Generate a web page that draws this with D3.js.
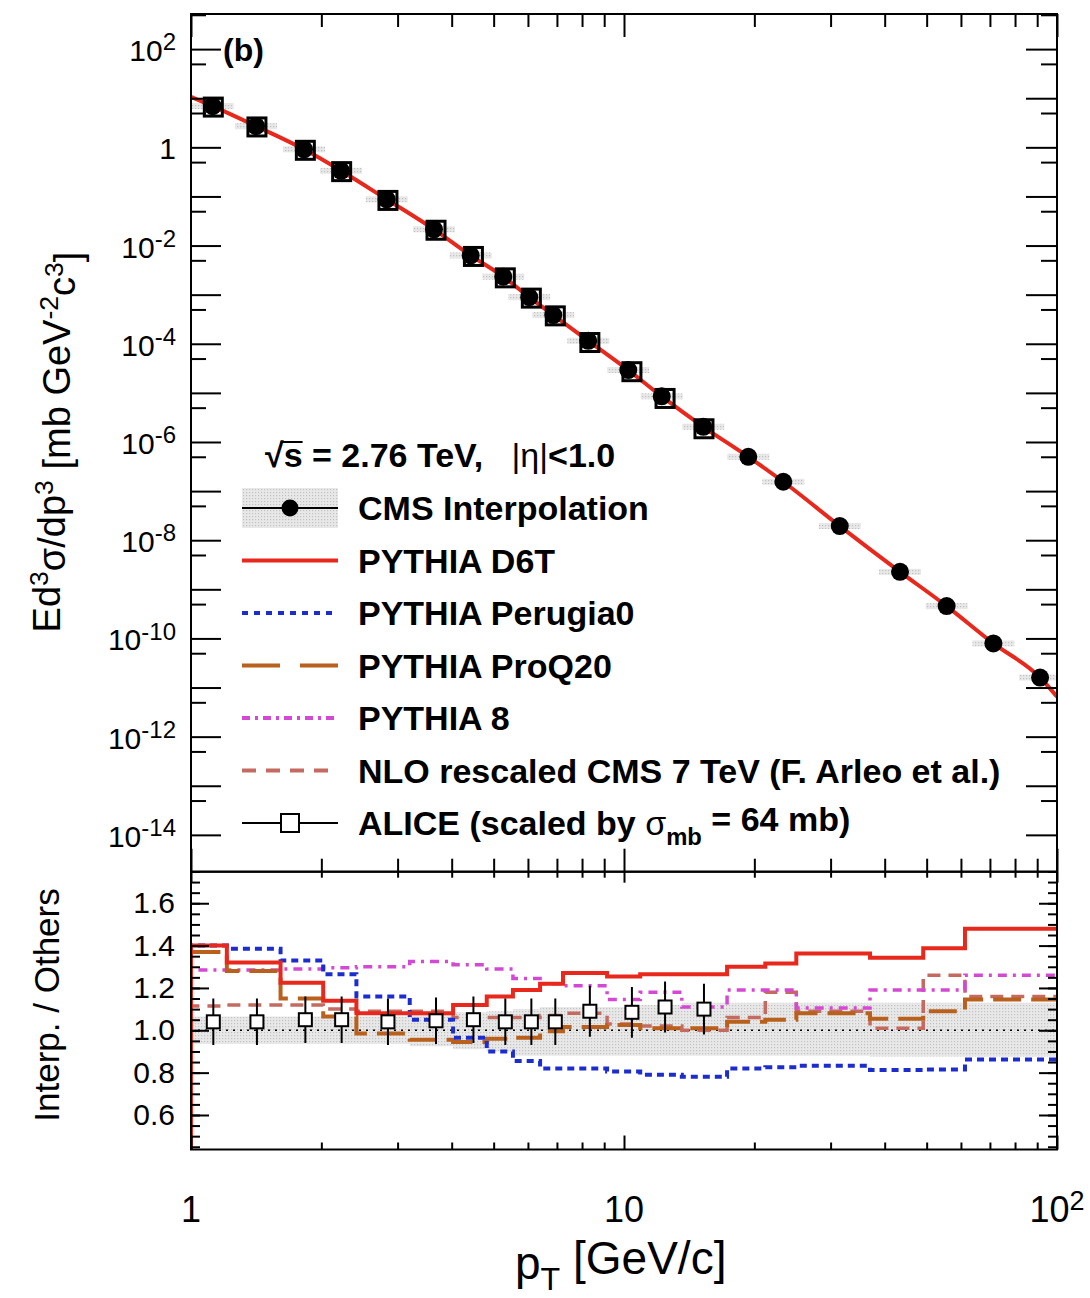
<!DOCTYPE html>
<html>
<head>
<meta charset="utf-8">
<script src="https://cdn.jsdelivr.net/npm/d3@7"></script>
<style>
  body { margin: 0; background: #fff; }
  svg { display: block; }
  text { font-family: "Liberation Sans", Arial, Helvetica, sans-serif; fill: #000; white-space: pre; }
</style>
</head>
<body>
<div id="chart"></div>
<script>
// ---- data ----
// CMS interpolation (filled circles), pT in GeV/c
const cmsPt  = [1.122, 1.413, 1.824, 2.221, 2.831, 3.64, 4.425, 5.263, 6.042, 6.866, 8.27,
                10.23, 12.22, 15.25, 19.37, 23.33, 31.5, 43.4, 55.6, 71.3, 91.4];
const cmsVal = [6.9, 2.7, 0.91, 0.333, 0.0873, 0.0214, 6.3e-3, 2.32e-3, 8.9e-4, 3.84e-4, 1.15e-4,
                2.91e-5, 8.5e-6, 2.04e-6, 5.0e-7, 1.55e-7, 1.94e-8, 2.27e-9, 4.55e-10, 7.9e-11, 1.6e-11];

// PYTHIA D6T spectrum (top panel curve)
const d6tPt  = [1, 1.122, 1.413, 1.824, 2.221, 2.831, 3.64, 4.425, 5.263, 6.042, 6.866, 8.27,
                10.23, 12.22, 15.25, 19.37, 23.33, 31.5, 43.4, 55.6, 71.3, 91.4, 100];
const d6tVal = [10.7, 6.9, 2.7, 0.91, 0.333, 0.0873, 0.0214, 6.3e-3, 2.32e-3, 8.9e-4, 3.84e-4, 1.15e-4,
                2.91e-5, 8.5e-6, 2.04e-6, 5.0e-7, 1.55e-7, 1.94e-8, 2.27e-9, 4.55e-10, 7.9e-11, 1.6e-11, 6.5e-12];

// ALICE (open squares)
const alicePt  = [1.126, 1.42, 1.837, 2.228, 2.85, 3.68, 4.49, 5.32, 6.11, 6.94, 8.34, 10.43, 12.44, 15.3];
const aliceVal = [6.6, 2.6, 0.87, 0.32, 0.083, 0.0205, 6.0e-3, 2.2e-3, 8.5e-4, 3.7e-4, 1.06e-4, 2.7e-5, 7.7e-6, 1.86e-6];
const aliceRatio    = [1.04, 1.04, 1.05, 1.05, 1.04, 1.045, 1.05, 1.04, 1.04, 1.04, 1.09, 1.085, 1.11, 1.10];
const aliceRatioErr = [0.11, 0.11, 0.11, 0.11, 0.11, 0.11, 0.11, 0.11, 0.11, 0.11, 0.12, 0.12, 0.12, 0.12];

// ratio panel: histogram bin edges and contents
const binEdges = [1.0, 1.21, 1.61, 2.02, 2.41, 3.2, 4.03, 4.82, 5.54, 6.4, 7.23, 9.14,
                  10.9, 13.6, 17.3, 21.2, 25.0, 37.0, 49.1, 61.3, 81.0, 100];
const ratioD6T      = [1.40, 1.32, 1.225, 1.14, 1.08, 1.08, 1.12, 1.16, 1.19, 1.22, 1.27,
                       1.254, 1.265, 1.265, 1.30, 1.316, 1.363, 1.343, 1.387, 1.48, 1.48];
const ratioPerugia0 = [1.40, 1.385, 1.33, 1.265, 1.16, 1.05, 0.965, 0.90, 0.855, 0.82, 0.82,
                       0.805, 0.79, 0.78, 0.82, 0.825, 0.832, 0.812, 0.815, 0.862, 0.862];
const ratioProQ20   = [1.37, 1.28, 1.15, 1.065, 0.985, 0.955, 0.945, 0.96, 0.965, 0.995, 1.015,
                       1.025, 1.01, 1.01, 1.04, 1.05, 1.08, 1.055, 1.09, 1.145, 1.145];
const ratioPythia8  = [1.285, 1.285, 1.29, 1.295, 1.30, 1.325, 1.31, 1.29, 1.245, 1.22, 1.21,
                       1.145, 1.18, 1.11, 1.19, 1.19, 1.105, 1.19, 1.19, 1.26, 1.26];
const ratioNLO      = [1.115, 1.12, 1.12, 1.10, 1.09, 1.09, 1.06, 1.06, 1.06, 1.07, 1.08,
                       1.03, 1.02, 1.00, 1.06, 1.18, 1.09, 1.01, 1.26, 1.16, 1.16];
const bandLow  = [0.935, 0.935, 0.935, 0.935, 0.935, 0.925, 0.91, 0.90, 0.88, 0.88, 0.88,
                  0.88, 0.88, 0.88, 0.88, 0.88, 0.88, 0.876, 0.876, 0.876, 0.876];
const bandHigh = [1.065, 1.065, 1.065, 1.065, 1.065, 1.075, 1.085, 1.09, 1.10, 1.11, 1.11,
                  1.11, 1.12, 1.13, 1.13, 1.13, 1.13, 1.13, 1.13, 1.13, 1.13];

// axis ticks
const xMajor = [1, 10, 100];
const xMinor = [2, 3, 4, 5, 6, 7, 8, 9, 20, 30, 40, 50, 60, 70, 80, 90];
const yTopExp = d3.range(-14, 3);            // every decade gets a long tick
const yTopLabelExp = [2, 0, -2, -4, -6, -8, -10, -12, -14];
const yBotMajor = [0.6, 0.8, 1.0, 1.2, 1.4, 1.6];
const yBotMinor = d3.range(0.45, 1.76, 0.05).map(v => +v.toFixed(2));

const legendLabels = ["CMS Interpolation", "PYTHIA D6T", "PYTHIA Perugia0", "PYTHIA ProQ20",
                      "PYTHIA 8", "NLO rescaled CMS 7 TeV (F. Arleo et al.)", "ALICE"];

// ---- layout ----
const W = 1090, H = 1298;
const X0 = 191, X1 = 1057, TOP0 = 14, MID = 871.7, BOT1 = 1149.5;

const col = {
  d6t: "#e8281c", per: "#1c2ccf", pro: "#b8601c", p8: "#d449d4", nlo: "#c46a60"
};

const x = d3.scaleLog().domain([1, 100]).range([X0, X1]);
const yTop = d3.scaleLog().domain([Math.pow(10, -14.75), Math.pow(10, 2.715)]).range([MID, TOP0]);
const yBot = d3.scaleLinear().domain([0.437, 1.749]).range([BOT1, MID]);

const svg = d3.select("#chart").append("svg").attr("width", W).attr("height", H);
const defs = svg.append("defs");
const pat = defs.append("pattern").attr("id", "hatch").attr("width", 3).attr("height", 3)
  .attr("patternUnits", "userSpaceOnUse");
pat.append("rect").attr("width", 3).attr("height", 3).attr("fill", "#e8e8e8");
pat.append("rect").attr("width", 1.2).attr("height", 1.2).attr("fill", "#c2c2c2");
defs.append("clipPath").attr("id", "clipTop").append("rect")
  .attr("x", X0).attr("y", TOP0).attr("width", X1 - X0).attr("height", MID - TOP0);
defs.append("clipPath").attr("id", "clipBot").append("rect")
  .attr("x", X0).attr("y", MID).attr("width", X1 - X0).attr("height", BOT1 - MID);

function sup(sel, base, exp, scale) {
  sel.text(null);
  sel.append("tspan").text(base);
  if (exp !== null && exp !== undefined)
    sel.append("tspan").attr("dy", "-0.45em").attr("font-size", scale || "80%").text(exp);
}

// ================= TOP PANEL =================
const gTop = svg.append("g").attr("clip-path", "url(#clipTop)");

// CMS uncertainty boxes
gTop.selectAll("rect.sys").data(cmsPt).join("rect")
  .attr("class", "sys")
  .attr("x", d => x(d) - 21).attr("width", 42)
  .attr("y", (d, i) => yTop(cmsVal[i]) - 3).attr("height", 6)
  .attr("fill", "url(#hatch)");

// PYTHIA D6T curve
gTop.append("path")
  .datum(d6tPt.map((p, i) => [p, d6tVal[i]]))
  .attr("fill", "none").attr("stroke", col.d6t).attr("stroke-width", 4)
  .attr("d", d3.line().x(d => x(d[0])).y(d => yTop(d[1])).curve(d3.curveMonotoneX));

// ALICE squares
gTop.selectAll("rect.alice").data(alicePt).join("rect")
  .attr("class", "alice")
  .attr("x", d => x(d) - 9).attr("width", 18)
  .attr("y", (d, i) => yTop(aliceVal[i]) - 9).attr("height", 18)
  .attr("fill", "none").attr("stroke", "#000").attr("stroke-width", 3);

// CMS circles
gTop.selectAll("circle.cms").data(cmsPt).join("circle")
  .attr("class", "cms")
  .attr("cx", d => x(d)).attr("cy", (d, i) => yTop(cmsVal[i])).attr("r", 9)
  .attr("fill", "#000");

// ================= BOTTOM PANEL =================
const gBot = svg.append("g").attr("clip-path", "url(#clipBot)");
const edgeIdx = d3.range(binEdges.length);

gBot.append("path")
  .datum(edgeIdx)
  .attr("fill", "url(#hatch)")
  .attr("d", d3.area()
    .x(i => x(binEdges[i]))
    .y0(i => yBot(bandLow[Math.min(i, bandLow.length - 1)]))
    .y1(i => yBot(bandHigh[Math.min(i, bandHigh.length - 1)]))
    .curve(d3.curveStepAfter));

gBot.append("line")
  .attr("x1", X0).attr("x2", X1).attr("y1", yBot(1)).attr("y2", yBot(1))
  .attr("stroke", "#000").attr("stroke-width", 1.6).attr("stroke-dasharray", "2,5");

function stepPts(vals) {
  const pts = [[binEdges[0], 0.3]];
  vals.forEach((v, i) => pts.push([binEdges[i], v]));
  pts.push([binEdges[binEdges.length - 1], vals[vals.length - 1]]);
  return pts;
}
const stepLine = d3.line().x(d => x(d[0])).y(d => yBot(d[1])).curve(d3.curveStepAfter);

const ratioSeries = [
  { vals: ratioNLO,      color: col.nlo, w: 3.5, dash: "13,8" },
  { vals: ratioPythia8,  color: col.p8,  w: 3.5, dash: "9,6,3,6" },
  { vals: ratioProQ20,   color: col.pro, w: 4,   dash: "28,10" },
  { vals: ratioPerugia0, color: col.per, w: 4,   dash: "7,5" },
  { vals: ratioD6T,      color: col.d6t, w: 4,   dash: null }
];
ratioSeries.forEach(s => {
  gBot.append("path")
    .datum(stepPts(s.vals))
    .attr("fill", "none").attr("stroke", s.color).attr("stroke-width", s.w)
    .attr("stroke-dasharray", s.dash)
    .attr("d", stepLine);
});

// ALICE ratio points
gBot.selectAll("line.err").data(alicePt).join("line")
  .attr("class", "err")
  .attr("x1", d => x(d)).attr("x2", d => x(d))
  .attr("y1", (d, i) => yBot(aliceRatio[i] - aliceRatioErr[i]))
  .attr("y2", (d, i) => yBot(aliceRatio[i] + aliceRatioErr[i]))
  .attr("stroke", "#000").attr("stroke-width", 2);
gBot.selectAll("rect.ar").data(alicePt).join("rect")
  .attr("class", "ar")
  .attr("x", d => x(d) - 6.5).attr("width", 13)
  .attr("y", (d, i) => yBot(aliceRatio[i]) - 6.5).attr("height", 13)
  .attr("fill", "#fff").attr("stroke", "#000").attr("stroke-width", 2);

// ================= AXES =================
function styleAxis(g) {
  g.select(".domain").remove();
  g.selectAll(".tick line").attr("stroke", "#000").attr("stroke-width", 2);
}
function ticksOnly(axis, vals, size) {
  return axis.tickValues(vals).tickSizeInner(size).tickSizeOuter(0).tickFormat("");
}

// top panel x ticks
svg.append("g").attr("transform", `translate(0,${TOP0})`).call(ticksOnly(d3.axisBottom(x), xMajor, 23)).call(styleAxis);
svg.append("g").attr("transform", `translate(0,${TOP0})`).call(ticksOnly(d3.axisBottom(x), xMinor, 13)).call(styleAxis);
svg.append("g").attr("transform", `translate(0,${MID})`).call(ticksOnly(d3.axisTop(x), xMajor, 23)).call(styleAxis);
svg.append("g").attr("transform", `translate(0,${MID})`).call(ticksOnly(d3.axisTop(x), xMinor, 13)).call(styleAxis);

// top panel y ticks
const topMaj = yTopExp.map(e => Math.pow(10, e));
const topMin = yTopExp.map(e => 5 * Math.pow(10, e)).filter(v => v < Math.pow(10, 2.7));
svg.append("g").attr("transform", `translate(${X0},0)`).call(ticksOnly(d3.axisLeft(yTop), topMaj, -30)).call(styleAxis);
svg.append("g").attr("transform", `translate(${X0},0)`).call(ticksOnly(d3.axisLeft(yTop), topMin, -15)).call(styleAxis);
svg.append("g").attr("transform", `translate(${X1},0)`).call(ticksOnly(d3.axisRight(yTop), topMaj, -31)).call(styleAxis);
svg.append("g").attr("transform", `translate(${X1},0)`).call(ticksOnly(d3.axisRight(yTop), topMin, -16)).call(styleAxis);

// top y labels
const gTopLab = svg.append("g");
yTopLabelExp.forEach(e => {
  const t = gTopLab.append("text")
    .attr("x", 176).attr("y", yTop(Math.pow(10, e)) + 12)
    .attr("text-anchor", "end").attr("font-size", 30);
  if (e === 0) t.text("1");
  else sup(t, "10", e < 0 ? "-" + (-e) : String(e));
});

// bottom panel x ticks
svg.append("g").attr("transform", `translate(0,${MID})`).call(ticksOnly(d3.axisBottom(x), xMajor, 11)).call(styleAxis);
svg.append("g").attr("transform", `translate(0,${MID})`).call(ticksOnly(d3.axisBottom(x), xMinor, 6)).call(styleAxis);
svg.append("g").attr("transform", `translate(0,${BOT1})`).call(ticksOnly(d3.axisTop(x), xMajor, 14)).call(styleAxis);
svg.append("g").attr("transform", `translate(0,${BOT1})`).call(ticksOnly(d3.axisTop(x), xMinor, 7)).call(styleAxis);

// bottom panel y ticks
svg.append("g").attr("transform", `translate(${X0},0)`)
  .call(d3.axisLeft(yBot).tickValues(yBotMajor).tickSizeInner(-18).tickSizeOuter(0).tickPadding(16)
    .tickFormat(d3.format(".1f")))
  .call(styleAxis)
  .call(g => g.selectAll("text").attr("font-size", 30).attr("font-family", "Liberation Sans, Arial, sans-serif").attr("fill", "#000"));
svg.append("g").attr("transform", `translate(${X0},0)`).call(ticksOnly(d3.axisLeft(yBot), yBotMinor, -9)).call(styleAxis);
svg.append("g").attr("transform", `translate(${X1},0)`).call(ticksOnly(d3.axisRight(yBot), yBotMajor, -18)).call(styleAxis);
svg.append("g").attr("transform", `translate(${X1},0)`).call(ticksOnly(d3.axisRight(yBot), yBotMinor, -9)).call(styleAxis);

// x labels
xMajor.forEach(v => {
  const t = svg.append("text").attr("x", x(v)).attr("y", 1222)
    .attr("text-anchor", "middle").attr("font-size", 36);
  if (v === 1) t.text("1");
  else if (v === 10) t.text("10");
  else sup(t, "10", "2", "75%");
});

// frames
[[TOP0, MID], [MID, BOT1]].forEach(([a, b]) => {
  svg.append("rect").attr("x", X0).attr("y", a).attr("width", X1 - X0).attr("height", b - a)
    .attr("fill", "none").attr("stroke", "#000").attr("stroke-width", 2);
});

// titles
const tx = svg.append("text").attr("x", 515).attr("y", 1279).attr("font-size", 46);
tx.append("tspan").text("p");
tx.append("tspan").attr("dy", "0.35em").attr("font-size", "70%").text("T");
tx.append("tspan").attr("dy", "-0.35em").text(" [GeV/c]");

const ty = svg.append("text").attr("transform", "translate(60,442) rotate(-90)")
  .attr("text-anchor", "middle").attr("font-size", 38);
[["Ed", null], ["3", 1], ["σ/dp", 0], ["3", 1], [" [mb GeV", 0], ["-2", 1], ["c", 0], ["3", 1], ["]", 0]]
  .forEach(([s, isSup]) => {
    const ts = ty.append("tspan").text(s);
    if (isSup === 1) ts.attr("dy", "-0.45em").attr("font-size", "70%");
    else if (isSup === 0) ts.attr("dy", "0.45em");
  });

svg.append("text").attr("transform", "translate(59,1005) rotate(-90)")
  .attr("text-anchor", "middle").attr("font-size", 35).text("Interp. / Others");

svg.append("text").attr("x", 223).attr("y", 61).attr("font-size", 32).attr("font-weight", "bold").text("(b)");

// ================= LEGEND =================
const lg = svg.append("g");
const hdr = lg.append("text").attr("x", 265).attr("y", 467).attr("font-size", 34).attr("font-weight", "bold");
hdr.append("tspan").text("√");
hdr.append("tspan").text("s");
hdr.append("tspan").text(" = 2.76 TeV,   ");
hdr.append("tspan").attr("font-weight", "normal").text("|η|");
hdr.append("tspan").text("<1.0");
// overline of the root sign
{
  const rootW = hdr.node().getSubStringLength(0, 1);
  const sW = hdr.node().getSubStringLength(1, 1);
  lg.append("line").attr("x1", 265 + rootW - 3).attr("x2", 265 + rootW + sW)
    .attr("y1", 442).attr("y2", 442).attr("stroke", "#000").attr("stroke-width", 2);
}

const legY = i => 508 + i * 52.5;
const LX0 = 242, LX1 = 338, LXM = 290, TX = 358;

// CMS entry
lg.append("rect").attr("x", LX0).attr("y", legY(0) - 20).attr("width", LX1 - LX0).attr("height", 40).attr("fill", "url(#hatch)");
lg.append("line").attr("x1", LX0).attr("x2", LX1).attr("y1", legY(0)).attr("y2", legY(0)).attr("stroke", "#000").attr("stroke-width", 2);
lg.append("circle").attr("cx", LXM).attr("cy", legY(0)).attr("r", 8.5).attr("fill", "#000");

const legLines = [
  { color: col.d6t, w: 4, dash: null },
  { color: col.per, w: 4, dash: "6,6" },
  { color: col.pro, w: 4, dash: "38,20" },
  { color: col.p8,  w: 4, dash: "8,5,3,5" },
  { color: col.nlo, w: 4, dash: "14,10" }
];
legLines.forEach((s, k) => {
  lg.append("line").attr("x1", LX0).attr("x2", LX1).attr("y1", legY(k + 1)).attr("y2", legY(k + 1))
    .attr("stroke", s.color).attr("stroke-width", s.w).attr("stroke-dasharray", s.dash);
});
// ALICE entry
lg.append("line").attr("x1", LX0).attr("x2", LX1).attr("y1", legY(6)).attr("y2", legY(6)).attr("stroke", "#000").attr("stroke-width", 2);
lg.append("rect").attr("x", LXM - 9).attr("y", legY(6) - 9).attr("width", 18).attr("height", 18)
  .attr("fill", "#fff").attr("stroke", "#000").attr("stroke-width", 2);

legendLabels.forEach((lab, i) => {
  const t = lg.append("text").attr("x", TX).attr("y", legY(i) + 12).attr("font-size", 34).attr("font-weight", "bold");
  if (i === 6) {
    t.append("tspan").text(lab + " (scaled by ");
    t.append("tspan").attr("font-weight", "normal").text("σ");
    t.append("tspan").attr("dy", "0.4em").attr("font-size", "70%").text("mb");
    t.append("tspan").attr("dy", "-0.4em").text(" = 64 mb)");
  } else {
    t.text(lab);
  }
});
</script>
</body>
</html>
